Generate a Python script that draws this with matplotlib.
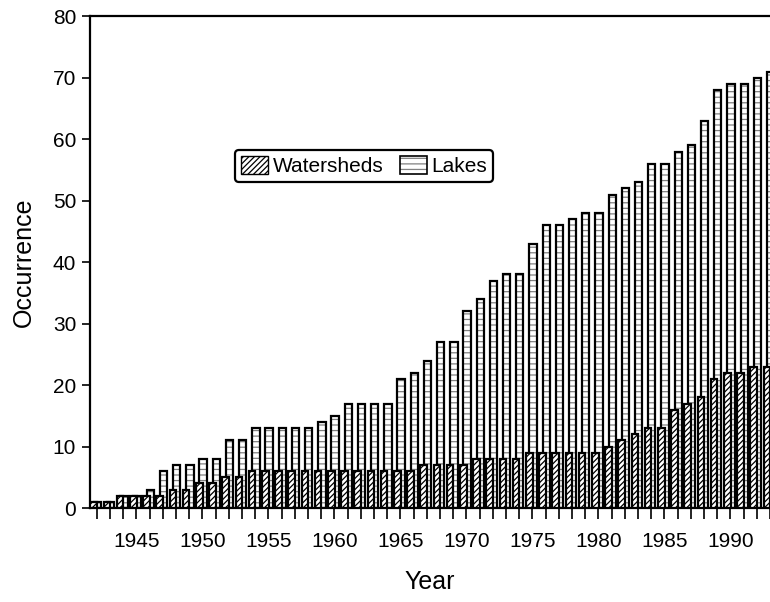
import numpy as np
from matplotlib import pyplot as plt
from matplotlib.patches import Patch

plt.rcParams["font.family"] = ["Liberation Sans", "DejaVu Sans"]
plt.rcParams["hatch.linewidth"] = 0.9

years = np.arange(1942, 1994)
watersheds = [
    1, 1, 2, 2, 2, 2, 3, 3, 4, 4,
    5, 5, 6, 6, 6, 6, 6, 6, 6, 6,
    6, 6, 6, 6, 6, 7, 7, 7, 7, 8,
    8, 8, 8, 9, 9, 9, 9, 9, 9, 10,
    11, 12, 13, 13, 16, 17, 18, 21, 22, 22,
    23, 23,
]
lakes = [
    1, 1, 2, 2, 3, 6, 7, 7, 8, 8,
    11, 11, 13, 13, 13, 13, 13, 14, 15, 17,
    17, 17, 17, 21, 22, 24, 27, 27, 32, 34,
    37, 38, 38, 43, 46, 46, 47, 48, 48, 51,
    52, 53, 56, 56, 58, 59, 63, 68, 69, 69,
    70, 71,
]
label_years = list(range(1945, 1991, 5))

fig = plt.figure(figsize=(7.7, 6.02), dpi=100)
ax = fig.add_axes([0.117, 0.156, 0.883, 0.817])

# lakes behind (grey dashed fill, black outline), watersheds in front
lake_x = years + 0.05
ax.bar(lake_x, lakes, width=0.55, facecolor="white", edgecolor="#808080",
       linewidth=0, hatch="---", zorder=2)
ax.bar(lake_x, lakes, width=0.55, fill=False, edgecolor="black",
       linewidth=1.6, zorder=2)
ax.bar(years - 0.23, watersheds, width=0.5, facecolor="white",
       edgecolor="black", linewidth=1.6, hatch="//////", zorder=3)

ax.set_xlim(1941.49, 1992.85)
ax.set_ylim(0, 80)
ax.set_xticks(years)
ax.set_xticklabels([str(y) if y in label_years else "" for y in years])
ax.set_yticks(range(0, 81, 10))
ax.tick_params(axis="x", direction="out", length=8, width=1.2,
               labelsize=15, pad=9)
ax.tick_params(axis="y", direction="out", length=6, width=1.2,
               labelsize=15, pad=4)

for side in ["left", "top", "bottom"]:
    ax.spines[side].set_linewidth(1.6)
ax.spines["right"].set_visible(False)

ax.set_xlabel("Year", fontsize=18, labelpad=14)
ax.set_ylabel("Occurrence", fontsize=18, labelpad=12)

ws_handle = Patch(facecolor="white", edgecolor="black", hatch="//////")
lake_handle = (
    Patch(facecolor="white", edgecolor="#808080", hatch="---", linewidth=0),
    Patch(fill=False, edgecolor="black", linewidth=1.2),
)
leg = ax.legend([ws_handle, lake_handle], ["Watersheds", "Lakes"],
                loc="center", bbox_to_anchor=(0.403, 0.695),
                ncol=2, fontsize=15, handlelength=1.3, handleheight=0.9,
                handletextpad=0.2, columnspacing=0.8, borderpad=0.3,
                fancybox=True, framealpha=1, edgecolor="black")
leg.get_frame().set_linewidth(1.6)

plt.savefig("out.png", dpi=100)
plt.close()
